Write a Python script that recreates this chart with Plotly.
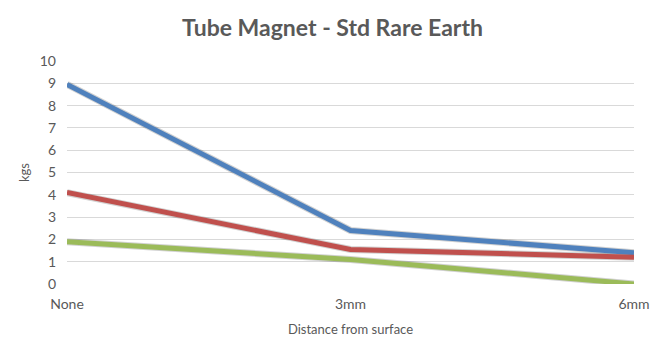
import plotly.graph_objects as go

categories = ["None", "3mm", "6mm"]
series_blue = [8.95, 2.4, 1.4]
series_red = [4.1, 1.55, 1.2]
series_green = [1.9, 1.1, 0.0]

colors = ["#4F81BD", "#C0504D", "#9BBB59"]
series = [series_blue, series_red, series_green]

fig = go.Figure()
for vals in series:
    fig.add_trace(go.Scatter(x=categories, y=vals, mode="lines",
                             line=dict(color="rgba(0,0,0,0.18)", width=7),
                             hoverinfo="skip", showlegend=False))
for vals, c in zip(series, colors):
    fig.add_trace(go.Scatter(x=categories, y=vals, mode="lines",
                             line=dict(color=c, width=5), showlegend=False))

font_family = "Lato, 'Open Sans', sans-serif"
fig.update_layout(
    width=665, height=352,
    margin=dict(l=67, r=31, t=61, b=68),
    paper_bgcolor="white", plot_bgcolor="white",
    title=dict(text="<b>Tube Magnet - Std Rare Earth</b>", x=0.5, xanchor="center",
               y=0.92, yanchor="middle",
               font=dict(family=font_family, size=23, color="#595959")),
    font=dict(family=font_family, color="#595959", size=13),
    xaxis=dict(type="category", range=[0, 2], showgrid=False, zeroline=False,
               showline=False, ticks="", tickfont=dict(size=14),
               ticklabelstandoff=10,
               title=dict(text="Distance from surface", font=dict(size=13), standoff=13)),
    yaxis=dict(range=[0, 10], dtick=1, showgrid=True, gridcolor="#D9D9D9",
               gridwidth=1, zeroline=False, showline=False, ticks="",
               tickfont=dict(size=14), ticklabelstandoff=10,
               title=dict(text="kgs", font=dict(size=13), standoff=7)),
)
fig.write_html("out.html")
